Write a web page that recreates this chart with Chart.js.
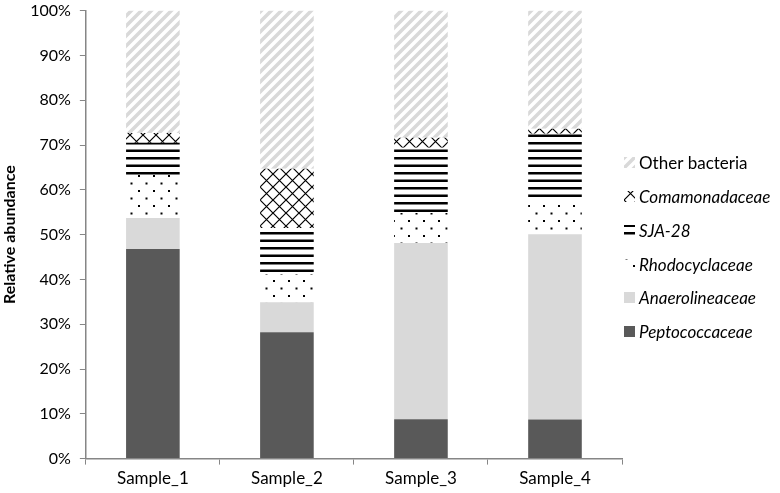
<!DOCTYPE html>
<html>
<head>
<meta charset="utf-8">
<script src="https://cdn.jsdelivr.net/npm/chart.js@4"></script>
<style>
  html, body { margin: 0; padding: 0; background: #fff; overflow: hidden; }
  #wrap { width: 780px; height: 493px; overflow: hidden; position: relative; }
  #myChart { position: absolute; left: 0; top: -8px; }
</style>
</head>
<body>
<div id="wrap"><canvas id="myChart" width="780" height="501"></canvas></div>
<script>
const samples = ['Sample_1', 'Sample_2', 'Sample_3', 'Sample_4'];
const taxa = ['Peptococcaceae', 'Anaerolineaceae', 'Rhodocyclaceae', 'SJA-28', 'Comamonadaceae', 'Other bacteria'];

const peptococcaceae = [46.8, 28.2, 8.8, 8.7];
const anaerolineaceae = [6.9, 6.7, 39.3, 41.4];
const rhodocyclaceae = [9.6, 6.3, 6.7, 7.4];
const sja28 = [7.2, 10.3, 14.6, 15.0];
const comamonadaceae = [2.2, 13.2, 2.2, 1.1];
const otherBacteria = [27.3, 35.3, 28.4, 26.4];

const yTicks = [0, 10, 20, 30, 40, 50, 60, 70, 80, 90, 100];

const FONT = 'Lato, "Open Sans", sans-serif';

const makeTile = (w, h, draw) => {
  const c = document.createElement('canvas');
  c.width = w; c.height = h;
  const g = c.getContext('2d');
  g.fillStyle = '#fff';
  g.fillRect(0, 0, w, h);
  draw(g);
  return document.getElementById('myChart').getContext('2d').createPattern(c, 'repeat');
};

// light grey diagonal stripes
const stripes = makeTile(10, 10, g => {
  g.strokeStyle = '#d9d9d9';
  g.lineWidth = 3.5;
  g.beginPath();
  g.moveTo(-5, 15); g.lineTo(15, -5);
  g.moveTo(-5, 5); g.lineTo(5, -5);
  g.moveTo(5, 15); g.lineTo(15, 5);
  g.stroke();
});
// black lattice
const lattice = makeTile(13, 13, g => {
  g.strokeStyle = '#000';
  g.lineWidth = 1.2;
  g.beginPath();
  g.moveTo(0, 0); g.lineTo(13, 13);
  g.moveTo(13, 0); g.lineTo(0, 13);
  g.stroke();
});
// horizontal lines
const hlines = makeTile(8, 15, g => {
  g.fillStyle = '#000';
  g.fillRect(0, 0, 8, 2.5);
  g.fillRect(0, 7.5, 8, 2.5);
});
// sparse dots
const dots = makeTile(15, 15, g => {
  g.fillStyle = '#000';
  g.fillRect(3, 3, 2, 2);
  g.fillRect(10.5, 10.5, 2, 2);
});

const series = [peptococcaceae, anaerolineaceae, rhodocyclaceae, sja28, comamonadaceae, otherBacteria];
const fills = ['#595959', '#d9d9d9', dots, hlines, lattice, stripes];

const legendPlugin = {
  id: 'sideLegend',
  afterDraw(chart) {
    const ctx = chart.ctx;
    const ys = [171, 205, 239, 273, 306, 340];
    const ds = chart.data.datasets.slice().reverse();
    ds.forEach((d, i) => {
      ctx.save();
      ctx.fillStyle = d.backgroundColor;
      ctx.fillRect(624, ys[i] - 6, 11, 11);
      ctx.fillStyle = '#000';
      ctx.font = (i === 0 ? '' : 'italic ') + '17px ' + FONT;
      ctx.textBaseline = 'middle';
      ctx.fillText(d.label, 639, ys[i] + 1);
      ctx.restore();
    });
  }
};

new Chart(document.getElementById('myChart'), {
  type: 'bar',
  data: {
    labels: samples,
    datasets: series.map((vals, i) => ({
      label: taxa[i],
      data: vals,
      backgroundColor: fills[i],
      borderWidth: 0,
      categoryPercentage: 1,
      barPercentage: 0.4
    }))
  },
  options: {
    responsive: false,
    animation: false,
    layout: { padding: { top: 0, right: 158, bottom: 0, left: 0 } },
    plugins: {
      legend: { display: false },
      tooltip: { enabled: false }
    },
    scales: {
      x: {
        stacked: true,
        offset: true,
        grid: { offset: true, drawOnChartArea: false, color: '#868686', tickLength: 6 },
        border: { color: '#868686', width: 1.5 },
        ticks: { color: '#000', font: { family: FONT, size: 17 }, padding: 4 }
      },
      y: {
        stacked: true,
        min: 0,
        max: 100,
        afterBuildTicks: axis => { axis.ticks = yTicks.map(v => ({ value: v })); },
        grid: { drawOnChartArea: false, color: '#868686', tickLength: 6 },
        border: { color: '#868686', width: 1.5 },
        ticks: {
          color: '#000',
          font: { family: FONT, size: 16 },
          padding: 9,
          callback: v => v + '%'
        },
        title: {
          display: true,
          text: 'Relative abundance',
          color: '#000',
          font: { family: FONT, size: 16, weight: 'bold' },
          padding: { top: 0, bottom: 2 }
        }
      }
    }
  },
  plugins: [legendPlugin]
});
</script>
</body>
</html>
